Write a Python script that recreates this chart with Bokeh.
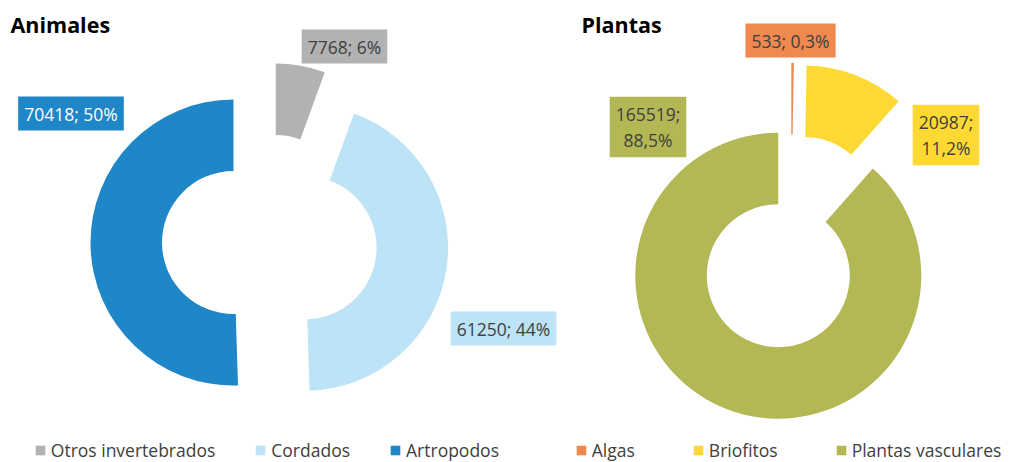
import math
from bokeh.plotting import figure
from bokeh.models import ColumnDataSource, Range1d, Legend, LegendItem
from bokeh.embed import file_html
from bokeh.resources import INLINE
from bokeh.core.properties import value

# ---------------- data ----------------
titles = ["Animales", "Plantas"]

animal_categories = ["Otros invertebrados", "Cordados", "Artropodos"]
animal_values = [7768, 61250, 70418]
animal_pct_labels = ["6%", "44%", "50%"]

plant_categories = ["Algas", "Briofitos", "Plantas vasculares"]
plant_values = [533, 20987, 165519]
plant_pct_labels = ["0,3%", "11,2%", "88,5%"]

# ---------------- style / layout ----------------
animal_colors = ["#B2B2B2", "#BDE3F6", "#1F86C7"]
plant_colors = ["#F0894F", "#FFD933", "#B3B855"]
animal_text_colors = ["#404040", "#404040", "#FFFFFF"]
plant_text_colors = ["#404040", "#404040", "#404040"]
animal_label_sep = ["; ", "; ", "; "]
plant_label_sep = ["; ", ";\n", ";\n"]
# label centers relative to donut centre (px, y up)
animal_label_offsets = [(75, 195.5), (234, -86.5), (-198.5, 128.5)]
plant_label_offsets = [(-0.5, 201.5), (155, 107), (-143, 115)]

W, H = 1009, 462
R_OUT, R_IN, EXPLODE = 143, 71.5, 36
CENTERS = [(269, 220.5), (790.5, 220.5)]
FONT = "Open Sans"

p = figure(width=W, height=H, x_range=Range1d(0, W), y_range=Range1d(0, H),
           output_backend="svg", toolbar_location=None,
           x_axis_type=None, y_axis_type=None, min_border=0,
           outline_line_color=None, background_fill_color="white")
p.grid.visible = False


def donut(center, cats, vals, pcts, colors, tcolors, seps, offsets):
    cx, cy = center
    total = float(sum(vals))
    cum = 0.0
    xs, ys, st, en = [], [], [], []
    for v in vals:
        a0 = cum / total * 2 * math.pi
        cum += v
        a1 = cum / total * 2 * math.pi
        mid = (a0 + a1) / 2
        xs.append(cx + EXPLODE * math.sin(mid))
        ys.append(cy + EXPLODE * math.cos(mid))
        st.append(math.pi / 2 - a0)
        en.append(math.pi / 2 - a1)
    src = ColumnDataSource(dict(x=xs, y=ys, start=st, end=en, color=colors, cat=cats))
    r = p.annular_wedge(x="x", y="y", inner_radius=R_IN, outer_radius=R_OUT,
                        start_angle="start", end_angle="end", direction="clock",
                        fill_color="color", line_color=None, source=src)
    lsrc = ColumnDataSource(dict(
        x=[cx + o[0] for o in offsets],
        y=[cy + o[1] for o in offsets],
        text=[f"{v}{s}{pc}" for v, s, pc in zip(vals, seps, pcts)],
        bg=colors, tc=tcolors))
    p.text(x="x", y="y", text="text", source=lsrc, text_align="center",
           text_baseline="middle", text_font=value(FONT), text_font_size="17.5px",
           text_color="tc", background_fill_color="bg",
           padding=dict(left=6, right=6, top=5, bottom=5), text_line_height=1.1)
    return r


r1 = donut(CENTERS[0], animal_categories, animal_values, animal_pct_labels,
           animal_colors, animal_text_colors, animal_label_sep, animal_label_offsets)
r2 = donut(CENTERS[1], plant_categories, plant_values, plant_pct_labels,
           plant_colors, plant_text_colors, plant_label_sep, plant_label_offsets)

# titles
tsrc = ColumnDataSource(dict(x=[10, 581], y=[438, 438], text=titles))
p.text(x="x", y="y", text="text", source=tsrc, text_align="left",
       text_baseline="middle", text_font=value(FONT), text_font_style="bold",
       text_font_size="21.5px", text_color="#000000")


def make_legend(cats, r, loc, spacing):
    leg = Legend(items=[LegendItem(label=c, renderers=[r], index=i) for i, c in enumerate(cats)],
                 orientation="horizontal", location=loc, spacing=spacing,
                 glyph_width=12, glyph_height=12, label_standoff=5,
                 label_height=20, padding=0, margin=0,
                 border_line_color=None, background_fill_alpha=0,
                 label_text_font=FONT, label_text_font_size="17.5px",
                 label_text_color="#404040")
    p.add_layout(leg)


make_legend(animal_categories, r1, (33.8, 0), 39)
make_legend(plant_categories, r2, (574.8, 0), 57)

open("out.html", "w").write(file_html(p, INLINE))
